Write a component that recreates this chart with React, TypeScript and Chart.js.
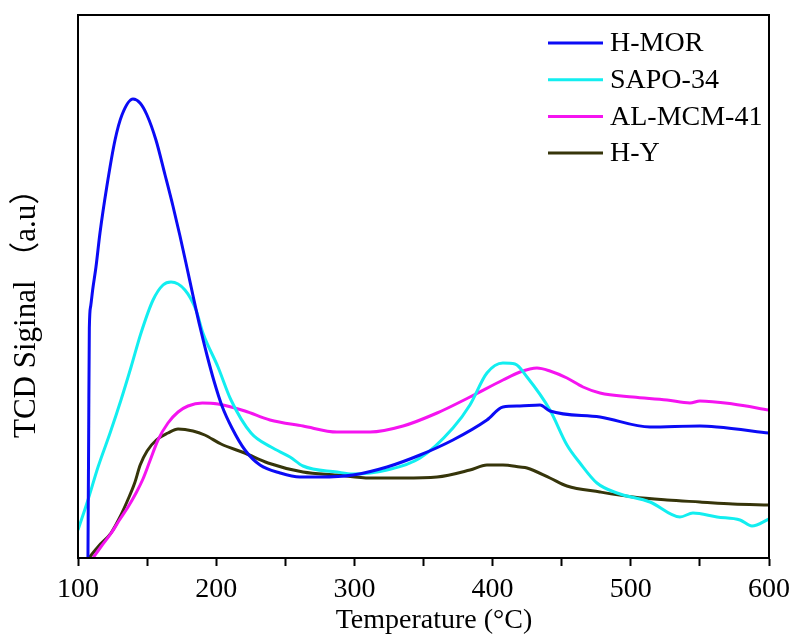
import React, { useEffect, useRef } from "react";
import { Chart, registerables } from "chart.js";

Chart.register(...registerables);

// H-MOR
const morT = [107.2, 107.7, 108.2, 109.2, 110.6, 113, 115.9, 120.8, 126.8, 131.8, 139.8, 144.9, 149.9, 156.4, 163, 168.7, 173.8, 178.9, 183.9, 188.3, 193.3, 198.4, 204.2, 211.4, 220.8, 231.7, 246.2, 260.6, 275.1, 299, 323.6, 347.5, 371.3, 395.9, 407.5, 419.8, 434.3, 441.5, 477.7, 513.9, 550, 562.4, 600];
const morV = [0, 118, 230, 252, 268, 291, 325, 371, 418, 443, 459, 455, 443, 418, 383, 352, 322, 290, 258, 231, 203, 177, 152, 130, 108, 93, 85, 81, 81, 83, 91, 103, 118, 138, 151, 152, 153, 147, 141, 131, 132, 131, 125];

// SAPO-34
const sapoT = [100, 107.2, 114.5, 123.2, 131.1, 138.4, 145.6, 154.3, 161.5, 167.3, 177.4, 185.4, 190.4, 201.3, 210.7, 225.2, 239.7, 253.4, 262.8, 287.4, 299, 323.6, 347.5, 371.3, 383.6, 395.9, 407.5, 416.2, 424.9, 441.5, 453.8, 463.2, 475.5, 490, 513.9, 535.6, 545, 562.4, 579, 587.7, 600];
const sapoV = [28, 58, 91, 125, 158, 191, 225, 258, 273, 276, 268, 248, 225, 191, 158, 125, 111, 101, 92, 86, 84, 88, 100, 130, 153, 185, 195, 194, 181, 148, 113, 95, 75, 65, 56, 41, 45, 41, 38, 32, 39];

// AL-MCM-41
const mcmT = [110.9, 117, 124.1, 130, 136.2, 142, 147, 152, 157.9, 165.1, 172.4, 179.6, 190, 201.3, 220.8, 238.9, 262.8, 287.4, 311.3, 335.2, 359.8, 383.6, 407.5, 419.8, 432.1, 441.5, 453.8, 465.4, 477.7, 501.6, 526.2, 542.8, 550, 573.9, 600];
const mcmV = [0, 12, 25, 38, 51, 65, 79, 97, 118, 135, 146, 152, 155, 154, 147, 138, 132, 126, 126, 132, 145, 161, 178, 186, 190, 187, 180, 171, 165, 161, 158, 155, 157, 154, 148];

// H-Y
const hyT = [107.8, 115, 123.9, 130, 136, 141, 145, 150, 156.7, 165.1, 172.4, 183.2, 191.7, 203.5, 220.6, 237.5, 262.8, 287.4, 311.3, 335.2, 359.8, 383.6, 395.9, 407.5, 419.8, 424.9, 441.5, 453.8, 477.7, 501.6, 526.2, 550, 573.9, 600];
const hyV = [0, 12, 25, 40, 58, 75, 93, 107, 118, 125, 129, 127, 123, 114, 105, 95, 86, 83, 80, 80, 81, 88, 93, 93, 91, 90, 80, 72, 66, 61, 58, 56, 54, 53];

const seriesNames = ["H-MOR", "SAPO-34", "AL-MCM-41", "H-Y"];
const seriesColors = ["#0b0bf5", "#12eef0", "#f514f0", "#36350a"];
const xTickLabels = [100, 200, 300, 400, 500, 600];

const FONT = "'Liberation Serif', 'Times New Roman', 'Noto Sans CJK SC', serif";

const pts = (xs: number[], ys: number[]) => xs.map((x, i) => ({ x, y: ys[i] }));

const frameAndLegend = {
  id: "frameAndLegend",
  afterDraw(chart: any) {
    const { ctx, chartArea } = chart;
    ctx.save();
    ctx.strokeStyle = "#000";
    ctx.lineWidth = 2;
    ctx.strokeRect(chartArea.left, chartArea.top, chartArea.right - chartArea.left, chartArea.bottom - chartArea.top);
    // legend inside plot area
    const x0 = chartArea.left + 470;
    const x1 = x0 + 55;
    const y0 = chartArea.top + 28;
    const step = 36.7;
    ctx.font = `28px ${FONT}`;
    ctx.textBaseline = "middle";
    ctx.fillStyle = "#000";
    chart.data.datasets.forEach((ds: any, i: number) => {
      const y = y0 + i * step;
      ctx.strokeStyle = ds.borderColor;
      ctx.lineWidth = 3;
      ctx.beginPath();
      ctx.moveTo(x0, y);
      ctx.lineTo(x1, y);
      ctx.stroke();
      ctx.fillText(ds.label, x1 + 7, y + 1);
    });
    ctx.restore();
  },
};

export default function App() {
  const ref = useRef<HTMLCanvasElement>(null);
  useEffect(() => {
    document.body.style.margin = "0";
    const datasets = [
      pts(morT, morV),
      pts(sapoT, sapoV),
      pts(mcmT, mcmV),
      pts(hyT, hyV),
    ].map((data, i) => ({
      label: seriesNames[i],
      data,
      borderColor: seriesColors[i],
      backgroundColor: seriesColors[i],
      borderWidth: 3,
      pointRadius: 0,
      cubicInterpolationMode: "monotone" as const,
      fill: false,
    }));
    const chart = new Chart(ref.current!, {
      type: "line",
      data: { datasets },
      plugins: [frameAndLegend],
      options: {
        animation: false,
        responsive: false,
        events: [],
        layout: { padding: { top: 15, right: 29, left: 0, bottom: 0 } },
        plugins: { legend: { display: false }, tooltip: { enabled: false } },
        scales: {
          x: {
            type: "linear",
            min: 100,
            max: 600,
            afterFit: (s: any) => { s.height = 83; },
            afterBuildTicks: (s: any) => {
              const t: any[] = [];
              for (let v = 100; v <= 600; v += 50) t.push({ value: v });
              s.ticks = t;
            },
            ticks: {
              autoSkip: false,
              maxRotation: 0,
              padding: 7,
              color: "#000",
              font: { family: FONT, size: 28 },
              callback: (v: any) => (xTickLabels.includes(Number(v)) ? String(v) : ""),
            },
            grid: { display: true, drawOnChartArea: false, tickLength: 8, tickColor: "#000", tickWidth: 2 },
            border: { display: true, color: "#000", width: 2 },
            title: {
              display: true,
              text: "   Temperature (°C)",
              color: "#000",
              font: { family: FONT, size: 28 },
              padding: { top: 0, bottom: 4 },
            },
          },
          y: {
            type: "linear",
            min: 0,
            max: 543,
            afterFit: (s: any) => { s.width = 78; },
            ticks: { display: false },
            grid: { display: false },
            border: { display: true, color: "#000", width: 2 },
            title: {
              display: true,
              text: "TCD Siginal （a.u） \u3000",
              color: "#000",
              font: { family: FONT, size: 31 },
              padding: { top: 8, bottom: 0 },
            },
          },
        },
      },
    });
    return () => chart.destroy();
  }, []);
  return (
    <div style={{ position: "fixed", left: 0, top: 0, width: 798, height: 641, background: "#fff" }}>
      <canvas ref={ref} width={798} height={641} style={{ width: 798, height: 641 }} />
    </div>
  );
}
